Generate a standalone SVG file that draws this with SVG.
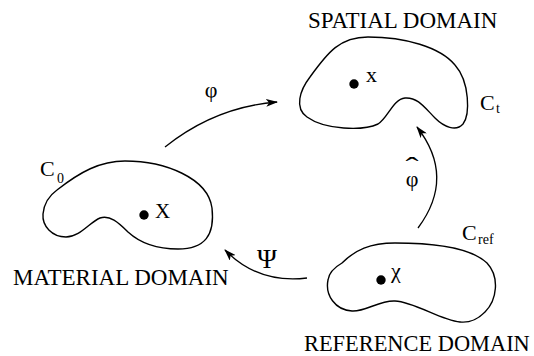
<svg xmlns="http://www.w3.org/2000/svg" width="534" height="356" viewBox="0 0 534 356">
<style>
.blob{fill:none;stroke:#000;stroke-width:1.4}
.arr{fill:none;stroke:#000;stroke-width:1.3}
text{font-family:"Liberation Serif","Times New Roman",serif;fill:#000}
.t{font-size:22px}
.title{font-size:23px}
.sub{font-size:14px}
</style>
<defs>
<marker id="ah" viewBox="0 0 12 8" refX="11" refY="4" markerWidth="12" markerHeight="8" markerUnits="userSpaceOnUse" orient="auto">
<path d="M0,0 L12,4 L0,8 L3,4 Z" fill="#000"/>
</marker>
</defs>
<rect width="534" height="356" fill="#fff"/>
<g id="material">
<path class="blob" d="M57,190 C80,172 100,161 125,161 C165,161 208,178 212,208 C215,235 205,249 178,249 C155,249 140,243 128,232 C118,222 110,215 100,218 C90,222 80,237 66,237 C52,237 42,226 43,214 C44,203 50,195 57,190 Z"/>
<circle cx="144" cy="215" r="4.7"/>
<text x="155" y="218" font-size="21">X</text>
<text class="t" x="40" y="176">C</text>
<text class="sub" x="57" y="183">0</text>
<text class="title" x="13" y="285">MATERIAL DOMAIN</text>
</g>
<g id="spatial">
<path class="blob" d="M310,77 C328,52 340,37 368,37 C405,37 440,47 455,65 C470,82 470,115 463,124 C456,132 444,127 435,118 C425,108 418,97 405,98 C393,99 388,118 378,124 C363,131 325,130 307,117 C294,108 300,90 310,77 Z"/>
<circle cx="354" cy="84" r="4.7"/>
<text class="t" x="366" y="82">x</text>
<text class="t" x="480" y="110">C</text>
<text class="sub" x="496" y="113">t</text>
<text class="title" x="308" y="28">SPATIAL DOMAIN</text>
</g>
<g id="reference">
<path class="blob" d="M342,263 C355,250 370,243 395,243 C430,243 470,247 487,263 C500,277 497,300 485,312 C477,320 470,323 460,322 C440,320 415,302 395,301 C380,300 365,312 352,311 C335,310 325,295 328,280 C329,272 335,267 342,263 Z"/>
<circle cx="381" cy="280" r="4.7"/>
<text class="t" x="391" y="278">χ</text>
<text class="t" x="462" y="240">C</text>
<text class="sub" x="478" y="244">ref</text>
<text x="304" y="351" font-size="22.4">REFERENCE DOMAIN</text>
</g>
<g id="connectors">
<path class="arr" d="M165,147 Q215,107 277,102" marker-end="url(#ah)"/>
<path class="arr" d="M418,228 Q456,177 417,127" marker-end="url(#ah)"/>
<path class="arr" d="M307,278 Q258,284 225,250" marker-end="url(#ah)"/>
<text class="t" x="211" y="97" text-anchor="middle">φ</text>
<text class="t" x="412" y="186" text-anchor="middle">φ</text>
<text x="412" y="175" font-size="26" text-anchor="middle" transform="translate(412,0) scale(1.5,1) translate(-412,0)">ˆ</text>
<text x="267" y="268" font-size="27" text-anchor="middle">Ψ</text>
</g>
</svg>
